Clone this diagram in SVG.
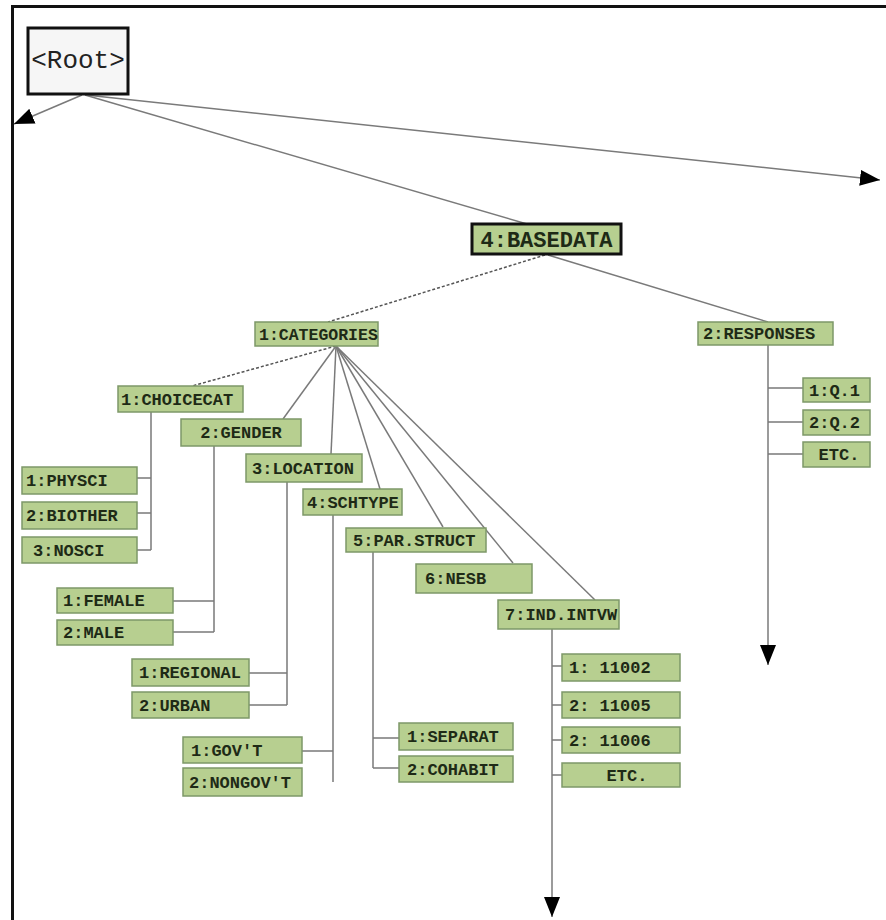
<svg xmlns="http://www.w3.org/2000/svg" width="886" height="920" viewBox="0 0 886 920">
<style>
.n rect{fill:#b7cf90;stroke:#7d9868;stroke-width:1.5}
.n text{font-family:"Liberation Mono","DejaVu Sans Mono",monospace;font-weight:bold;font-size:17px;fill:#1e2a16}
.c{stroke:#7a7a7a;stroke-width:1.5;fill:none}
.d{stroke:#555;stroke-width:1.5;fill:none;stroke-dasharray:3,2}
.frame{stroke:#111;stroke-width:3;fill:none}
</style>
<defs>
<marker id="ah" viewBox="0 0 20 16" refX="20" refY="8" markerWidth="20" markerHeight="16" markerUnits="userSpaceOnUse" orient="auto">
<path d="M0,0 L20,8 L0,16 Z" fill="#000"/>
</marker>
</defs>
<rect width="886" height="920" fill="#fff"/>
<path class="frame" d="M12.5,920 V6.5 H886"/>

<g id="connectors">
<line class="c" x1="82" y1="95" x2="14" y2="124" marker-end="url(#ah)"/>
<line class="c" x1="85" y1="95" x2="527" y2="224"/>
<line class="c" x1="86" y1="95" x2="880" y2="180" marker-end="url(#ah)"/>
<line class="d" x1="545" y1="255" x2="328" y2="322"/>
<line class="c" x1="548" y1="255" x2="768" y2="322"/>
<path class="c" d="M768,345 V665" marker-end="url(#ah)"/>
<path class="c" d="M768,388 H803 M768,422 H803 M768,454 H803"/>
<line class="d" x1="336" y1="346" x2="192" y2="386"/>
<line class="c" x1="336" y1="346" x2="283" y2="419"/>
<line class="c" x1="336" y1="346" x2="331" y2="454"/>
<line class="c" x1="336" y1="346" x2="380" y2="489"/>
<line class="c" x1="336" y1="346" x2="443" y2="527"/>
<line class="c" x1="336" y1="346" x2="513" y2="563"/>
<line class="c" x1="336" y1="346" x2="595" y2="600"/>
<path class="c" d="M151,412 V550 M137,478 H151 M137,513 H151 M137,550 H151"/>
<path class="c" d="M214,446 V632 M173,601 H214 M173,632 H214"/>
<path class="c" d="M287,482 V705 M249,673 H287 M249,705 H287"/>
<path class="c" d="M333,515 V782 M302,751 H333"/>
<path class="c" d="M373,552 V768 M373,738 H399 M373,768 H399"/>
<path class="c" d="M552,629 V917" marker-end="url(#ah)"/>
<path class="c" d="M552,666 H562 M552,705 H562 M552,740 H562 M552,775 H562"/>
</g>

<g id="root">
<rect x="28" y="28" width="100" height="66" fill="#f6f6f6" stroke="#111" stroke-width="3"/>
<text x="78" y="68" text-anchor="middle" font-family="Liberation Mono, monospace" font-size="26" fill="#222">&lt;Root&gt;</text>
</g>

<g id="basedata" class="n">
<rect x="472" y="224" width="149" height="30" style="stroke:#111;stroke-width:3"/>
<text x="546.5" y="247" text-anchor="middle" style="font-size:22px">4:BASEDATA</text>
</g>

<g id="categories" class="n"><rect x="255" y="322" width="123" height="24"/><text x="259" y="340" style="font-size:16.5px">1:CATEGORIES</text></g>
<g id="responses" class="n"><rect x="698" y="322" width="135" height="23"/><text x="703" y="339">2:RESPONSES</text></g>
<g id="q1" class="n"><rect x="803" y="378" width="67" height="24"/><text x="809" y="396">1:Q.1</text></g>
<g id="q2" class="n"><rect x="803" y="410" width="67" height="25"/><text x="809" y="428">2:Q.2</text></g>
<g id="qetc" class="n"><rect x="803" y="442" width="67" height="25"/><text x="839" y="460" text-anchor="middle">ETC.</text></g>

<g id="choicecat" class="n"><rect x="118" y="386" width="125" height="26"/><text x="121" y="405">1:CHOICECAT</text></g>
<g id="physci" class="n"><rect x="22" y="467" width="115" height="27"/><text x="26" y="486">1:PHYSCI</text></g>
<g id="biother" class="n"><rect x="22" y="502" width="115" height="27"/><text x="26" y="521">2:BIOTHER</text></g>
<g id="nosci" class="n"><rect x="22" y="537" width="115" height="26"/><text x="33" y="556">3:NOSCI</text></g>

<g id="gender" class="n"><rect x="181" y="419" width="120" height="27"/><text x="241" y="438" text-anchor="middle">2:GENDER</text></g>
<g id="female" class="n"><rect x="57" y="588" width="116" height="25"/><text x="63" y="606">1:FEMALE</text></g>
<g id="male" class="n"><rect x="57" y="620" width="116" height="25"/><text x="63" y="638">2:MALE</text></g>

<g id="location" class="n"><rect x="246" y="454" width="116" height="28"/><text x="252" y="474">3:LOCATION</text></g>
<g id="regional" class="n"><rect x="132" y="659" width="117" height="27"/><text x="139" y="678">1:REGIONAL</text></g>
<g id="urban" class="n"><rect x="132" y="692" width="117" height="26"/><text x="139" y="711">2:URBAN</text></g>

<g id="schtype" class="n"><rect x="303" y="489" width="99" height="26"/><text x="307" y="508">4:SCHTYPE</text></g>
<g id="govt" class="n"><rect x="183" y="737" width="119" height="26"/><text x="191" y="756">1:GOV'T</text></g>
<g id="nongovt" class="n"><rect x="183" y="768" width="119" height="28"/><text x="189" y="788">2:NONGOV'T</text></g>

<g id="parstruct" class="n"><rect x="346" y="528" width="140" height="24"/><text x="353" y="546">5:PAR.STRUCT</text></g>
<g id="separat" class="n"><rect x="399" y="723" width="114" height="27"/><text x="407" y="742">1:SEPARAT</text></g>
<g id="cohabit" class="n"><rect x="399" y="756" width="114" height="26"/><text x="407" y="775">2:COHABIT</text></g>

<g id="nesb" class="n"><rect x="416" y="564" width="116" height="29"/><text x="425" y="584">6:NESB</text></g>

<g id="indintvw" class="n"><rect x="498" y="600" width="121" height="29"/><text x="505" y="620">7:IND.INTVW</text></g>
<g id="i11002" class="n"><rect x="562" y="654" width="118" height="27"/><text x="569" y="673">1: 11002</text></g>
<g id="i11005" class="n"><rect x="562" y="692" width="118" height="26"/><text x="569" y="711">2: 11005</text></g>
<g id="i11006" class="n"><rect x="562" y="727" width="118" height="26"/><text x="569" y="746">2: 11006</text></g>
<g id="ietc" class="n"><rect x="562" y="763" width="118" height="24"/><text x="627" y="781" text-anchor="middle">ETC.</text></g>
</svg>
